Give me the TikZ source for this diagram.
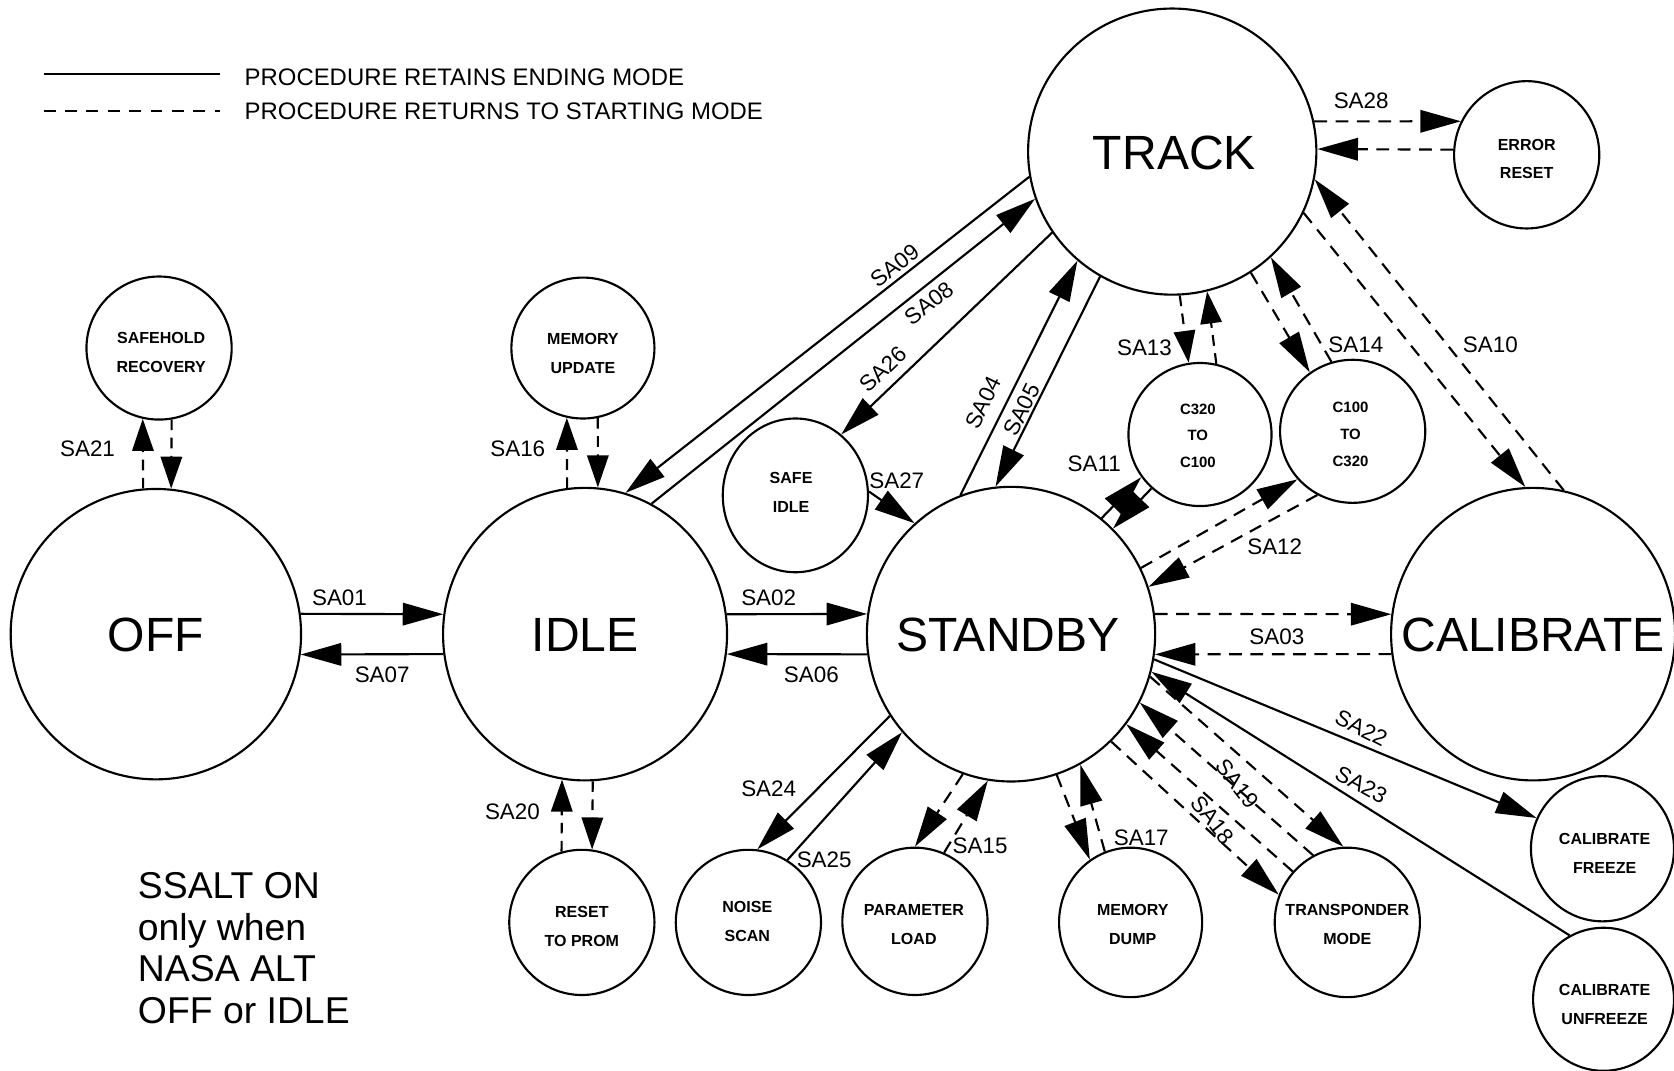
\documentclass[tikz,border=0pt]{standalone}
\usepackage{fontspec}
\setmainfont{Liberation Sans}
\usetikzlibrary{arrows.meta,shapes.geometric}
\begin{document}
\begin{tikzpicture}[x=1pt,y=-1pt,
  state/.style 2 args={draw, line width=2pt, ellipse, inner sep=0pt, minimum width=#1pt, minimum height=#2pt},
  bigtxt/.style={font=\fontsize{45}{54}\selectfont, inner sep=0pt},
  smtxt/.style={font=\bfseries\fontsize{15}{27}\selectfont, align=center, inner sep=0pt},
  smtxtc/.style={font=\bfseries\fontsize{14}{25}\selectfont, align=center, inner sep=0pt},
  lab/.style={font=\fontsize{21}{25}\selectfont, inner sep=0pt},
  conn/.style={line width=2pt, -{Triangle[length=38pt,width=21pt]}},
  dconn/.style={conn, dash pattern=on 12pt off 8pt},
  sconn/.style={line width=2pt, -{Triangle[length=30pt,width=20pt]}},
  dsconn/.style={sconn, dash pattern=on 10pt off 7pt},
  legline/.style={line width=2pt}
]
\fill[white] (0,0) rectangle (1568,1003);
\useasboundingbox (0,0) rectangle (1568,1003);

% legend
\coordinate (lg1a) at (41,69);
\coordinate (lg1b) at (206,69);
\coordinate (lg2a) at (41,104);
\coordinate (lg2b) at (206,104);
\draw[legline] (lg1a) -- (lg1b);
\draw[legline, dash pattern=on 11pt off 9pt] (lg2a) -- (lg2b);
\node[font=\fontsize{22.4}{26}\selectfont, inner sep=0pt, anchor=west] (lgt1) at (229,72) {PROCEDURE RETAINS ENDING MODE};
\node[font=\fontsize{22.4}{26}\selectfont, inner sep=0pt, anchor=west] (lgt2) at (229,104) {PROCEDURE RETURNS TO STARTING MODE};

% big states
\node[state={272}{272}] (off) at (146,594) {};
\node[bigtxt] (offt) at (146,595) {OFF};
\node[state={266}{274}] (idle) at (548,594) {};
\node[bigtxt] (idlet) at (548,595) {IDLE};
\node[state={270}{276}] (standby) at (947,594) {};
\node[bigtxt] (standbyt) at (944,595) {STANDBY};
\node[state={266}{274}] (calibrate) at (1436,594) {};
\node[bigtxt] (calibratet) at (1436,595) {CALIBRATE};
\node[state={270}{268}] (track) at (1098,142) {};
\node[bigtxt] (trackt) at (1100,143) {TRACK};

% small states
\node[state={136}{138}] (error) at (1430,145) {};
\node[smtxt] (errort) at (1430,149) {ERROR\\RESET};
\node[state={136}{134}] (safehold) at (149,326) {};
\node[smtxt] (safeholdt) at (151,330) {SAFEHOLD\\RECOVERY};
\node[state={134}{132}] (memupd) at (546,326) {};
\node[smtxt] (memupdt) at (546,331) {MEMORY\\UPDATE};
\node[state={136}{144}] (safeidle) at (745,464) {};
\node[smtxt] (safeidlet) at (741,461) {SAFE\\IDLE};
\node[state={134}{134}] (c320) at (1124,407) {};
\node[smtxtc] (c320t) at (1122,408) {C320\\TO\\C100};
\node[state={136}{134}] (c100) at (1267,404) {};
\node[smtxtc] (c100t) at (1265,407) {C100\\TO\\C320};
\node[state={136}{136}] (reset) at (545,864) {};
\node[smtxt] (resett) at (545,868) {RESET\\TO PROM};
\node[state={136}{136}] (noise) at (701,864) {};
\node[smtxt] (noiset) at (700,863) {NOISE\\SCAN};
\node[state={136}{138}] (param) at (857,863) {};
\node[smtxt] (paramt) at (856,866) {PARAMETER\\LOAD};
\node[state={134}{140}] (memdump) at (1059,864) {};
\node[smtxt] (memdumpt) at (1061,866) {MEMORY\\DUMP};
\node[state={136}{140}] (transp) at (1262,864) {};
\node[smtxt] (transpt) at (1262,866) {TRANSPONDER\\MODE};
\node[state={134}{136}] (calfreeze) at (1501,795) {};
\node[smtxt] (calfreezet) at (1503,799) {CALIBRATE\\FREEZE};
\node[state={132}{134}] (calunfreeze) at (1502,936) {};
\node[smtxt] (calunfreezet) at (1503,941) {CALIBRATE\\UNFREEZE};

% note
\node[font=\fontsize{35}{39}\selectfont, align=left, inner sep=0pt, anchor=north west] (note) at (129,817) {SSALT ON\\only when\\NASA ALT\\OFF or IDLE};

% connectors
\draw[conn] (off.8) -- (idle.172);
\draw[conn] (idle.188) -- (off.-8);
\draw[conn] (idle.8) -- (standby.172);
\draw[conn] (standby.188) -- (idle.-8);
\draw[dconn] (standby.8) -- (calibrate.172);
\draw[dconn] (calibrate.188) -- (standby.-8);
\draw[dsconn] (off.95) -- (safehold.257);
\draw[dsconn] (safehold.280) -- (off.84);
\draw[dsconn] (idle.97) -- (memupd.257);
\draw[dsconn] (memupd.282) -- (idle.85);
\draw[dsconn] (reset.106) -- (idle.261);
\draw[dsconn] (idle.273) -- (reset.82);
\draw[conn] (track.190) -- (idle.74);
\draw[conn] (idle.63) -- (track.199);
\draw[conn] (track.214) -- (safeidle.53);
\draw[conn] (safeidle.3) -- (standby.131);
\draw[conn] (standby.110) -- (track.229);
\draw[conn] (track.240) -- (standby.96);
\draw[conn] (standby.52) -- (c320.216);
\draw[conn] (c320.228) -- (standby.46);
\draw[dsconn] (track.273) -- (c320.99);
\draw[dsconn] (c320.77) -- (track.284);
\draw[dconn] (track.303) -- (c100.126);
\draw[dconn] (c100.107) -- (track.313);
\draw[dconn] (track.-25) -- (calibrate.93);
\draw[dconn] (calibrate.78) -- (track.-11);
\draw[dconn] (track.12) -- (error.153);
\draw[dconn] (error.176) -- (track.1);
\draw[dconn] (standby.27) -- (c100.221);
\draw[dconn] (c100.241) -- (standby.19);
\draw[conn] (standby.-10) -- (calfreeze.155);
\draw[conn] (calunfreeze.118) -- (standby.-15);
\draw[dconn] (standby.-17) -- (transp.93);
\draw[dconn] (transp.117) -- (standby.-28);
\draw[dconn] (transp.137) -- (standby.-38);
\draw[dconn] (standby.-47) -- (transp.158);
\draw[conn] (standby.214) -- (noise.83);
\draw[conn] (noise.58) -- (standby.222);
\draw[dconn] (standby.251) -- (param.90);
\draw[dconn] (param.67) -- (standby.261);
\draw[dconn] (standby.288) -- (memdump.123);
\draw[dconn] (memdump.110) -- (standby.298);

% labels
\node[lab] (l01) at (318,560) {SA01};
\node[lab] (l07) at (358,632) {SA07};
\node[lab] (l02) at (720,560) {SA02};
\node[lab] (l06) at (760,632) {SA06};
\node[lab] (l03) at (1196,596) {SA03};
\node[lab] (l21) at (82,420) {SA21};
\node[lab] (l16) at (485,420) {SA16};
\node[lab] (l20) at (480,760) {SA20};
\node[lab, rotate=38] (l09) at (838,249) {SA09};
\node[lab, rotate=38] (l08) at (870,284) {SA08};
\node[lab, rotate=44] (l26) at (827,346) {SA26};
\node[lab] (l27) at (840,450) {SA27};
\node[lab, rotate=64] (l04) at (921,377) {SA04};
\node[lab, rotate=64] (l05) at (957,384) {SA05};
\node[lab] (l13) at (1072,326) {SA13};
\node[lab] (l14) at (1270,323) {SA14};
\node[lab] (l10) at (1396,323) {SA10};
\node[lab] (l28) at (1275,94) {SA28};
\node[lab] (l11) at (1025,434) {SA11};
\node[lab] (l12) at (1194,512) {SA12};
\node[lab, rotate=-27] (l22) at (1275,682) {SA22};
\node[lab, rotate=-29] (l23) at (1275,735) {SA23};
\node[lab, rotate=-52] (l19) at (1159,734) {SA19};
\node[lab, rotate=-52] (l18) at (1136,768) {SA18};
\node[lab] (l24) at (720,739) {SA24};
\node[lab] (l25) at (772,805) {SA25};
\node[lab] (l15) at (918,792) {SA15};
\node[lab] (l17) at (1069,785) {SA17};
\end{tikzpicture}
\end{document}
